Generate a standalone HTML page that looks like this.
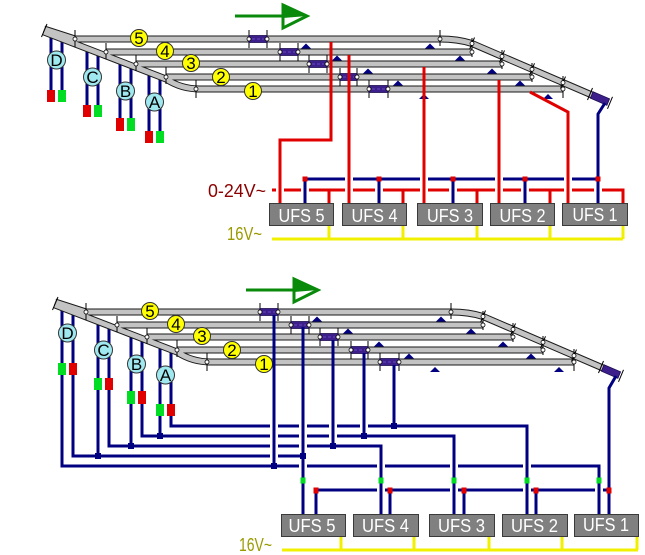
<!DOCTYPE html>
<html><head><meta charset="utf-8"><style>
html,body{margin:0;padding:0;background:#fff;}
svg{display:block;}
text{font-family:"Liberation Sans",sans-serif;}
</style></head><body>
<svg width="645" height="555" viewBox="0 0 645 555" xmlns="http://www.w3.org/2000/svg">
<rect width="645" height="555" fill="#fff"/>

<!-- ===================== TOP TRACK GROUP ===================== -->
<g id="topTrk">
 <!-- signal wires -->
 <g stroke="#000080" stroke-width="3" fill="none">
  <path d="M51,33V90M62,37V90M87,46V105M98,50V105M120,59V118M131,64V118M149,71V131M160,76V131"/>
 </g>
 <!-- tracks -->
 <g fill="none">
  <g stroke="#1a1a1a" stroke-width="7">
   <path d="M44,29 L75,39 H440 Q458,39 472,43.5 L600,98.5"/>
   <path d="M44,32 L166,79 Q181,89 200,89"/>
   <path d="M106,52H472M136,64H502M166,77H532M196,89H563"/>
  </g>
  <g stroke="#c3c3c3" stroke-width="5">
   <path d="M44,29 L75,39 H440 Q458,39 472,43.5 L600,98.5"/>
   <path d="M44,32 L166,79 Q181,89 200,89"/>
   <path d="M106,52H472M136,64H502M166,77H532M196,89H563"/>
  </g>
 </g>
 <!-- ticks -->
 <g stroke="#000" stroke-width="1">
  <path d="M41.5,37L47,24M75,30V47M106,43V59M136,55V71M166,67V84M196,80V98"/>
  <path d="M440,30V46M472,38V57M502,50V69M532,63V82M563,76V98"/>
  <path d="M474.5,37.5L469.5,49.5M504.5,50.4L499.5,62.4M534.5,63.3L529.5,75.3M565.5,76.6L560.5,88.6M592.5,88L587.5,100M612.5,96.8L607.5,108.8"/>
  <path d="M249,30V48M267,30V48M280,43V61M298,43V61M309,55V73M327,55V73M340,68V86M357,68V86M369,80V98M388,80V98"/>
 </g>
 <!-- occupied blocks -->
 <g fill="#3d1f8c" stroke="#1e0f50" stroke-width="0.8">
  <rect x="249" y="35.5" width="18" height="7"/>
  <rect x="280" y="48.5" width="18" height="7"/>
  <rect x="309" y="60.5" width="18" height="7"/>
  <rect x="340" y="73.5" width="17" height="7"/>
  <rect x="369" y="85.5" width="19" height="7"/>
  <polygon points="593.1,91.7 609.6,98.8 606.9,105.3 590.4,98.2"/>
 </g>
 <g stroke="#5a3cb0" stroke-width="1.5" stroke-dasharray="3,2">
  <path d="M252,39H264M283,52H295M312,64H324M343,77H354M372,89H385"/>
 </g>
 <!-- white joint dots -->
 <g fill="#fff" stroke="#000" stroke-width="0.8">
  <circle cx="75" cy="39" r="2"/><circle cx="106" cy="52" r="2"/><circle cx="136" cy="64" r="2"/><circle cx="166" cy="77" r="2"/><circle cx="196" cy="89" r="2"/>
  <circle cx="440" cy="39" r="2"/><circle cx="472" cy="43.5" r="2"/><circle cx="472" cy="52" r="2"/><circle cx="502" cy="56.4" r="2"/><circle cx="502" cy="64" r="2"/><circle cx="532" cy="69.3" r="2"/><circle cx="532" cy="77" r="2"/><circle cx="563" cy="82.6" r="2"/><circle cx="563" cy="89" r="2"/>
  <circle cx="249" cy="39" r="2"/><circle cx="267" cy="39" r="2"/><circle cx="280" cy="52" r="2"/><circle cx="298" cy="52" r="2"/><circle cx="309" cy="64" r="2"/><circle cx="327" cy="64" r="2"/><circle cx="340" cy="77" r="2"/><circle cx="357" cy="77" r="2"/><circle cx="369" cy="89" r="2"/><circle cx="388" cy="89" r="2"/>
 </g>
 <!-- triangles -->
 <g fill="#000080">
  <polygon points="301,48.5 311,48.5 306,43.5"/><polygon points="425,48.5 435,48.5 430,43.5"/>
  <polygon points="332,60.5 342,60.5 337,55.5"/><polygon points="455,60.5 465,60.5 460,55.5"/>
  <polygon points="363,73.5 373,73.5 368,68.5"/><polygon points="487,73.5 497,73.5 492,68.5"/>
  <polygon points="393,85.5 403,85.5 398,80.5"/><polygon points="515,85.5 525,85.5 520,80.5"/>
  <polygon points="419,99 429,99 424,94"/><polygon points="543,99 553,99 548,94"/>
 </g>
 <!-- numbered circles -->
 <g fill="#ffff00" stroke="#333" stroke-width="1">
  <circle cx="139" cy="38" r="8.5"/><circle cx="165" cy="51" r="8.5"/><circle cx="191" cy="63" r="8.5"/><circle cx="221" cy="77" r="8.5"/><circle cx="253" cy="91" r="8.5"/>
 </g>
 <g font-size="17" text-anchor="middle" fill="#000">
  <text x="139" y="44">5</text><text x="165" y="57">4</text><text x="191" y="69">3</text><text x="221" y="83">2</text><text x="253" y="97">1</text>
 </g>
 <!-- signal circles -->
 <g fill="#a0e8f0" stroke="#333" stroke-width="1">
  <circle cx="56.5" cy="60" r="9"/><circle cx="92.5" cy="77" r="9"/><circle cx="125.5" cy="91" r="9"/><circle cx="154.5" cy="102" r="9"/>
 </g>
 <g font-size="17" text-anchor="middle" fill="#000">
  <text x="56.5" y="66">D</text><text x="92.5" y="83">C</text><text x="125.5" y="97">B</text><text x="154.5" y="108">A</text>
 </g>
 <!-- signal lamps (red left, green right) -->
 <g fill="#e00000"><rect x="47" y="90" width="8" height="12"/><rect x="83" y="105" width="8" height="12"/><rect x="116" y="118" width="8" height="13"/><rect x="145" y="131" width="8" height="12"/></g>
 <g fill="#00dd22"><rect x="58" y="90" width="8" height="12"/><rect x="94" y="105" width="8" height="12"/><rect x="127" y="118" width="8" height="13"/><rect x="156" y="131" width="8" height="12"/></g>
 <!-- arrow -->
 <line x1="235" y1="16" x2="285" y2="16" stroke="#0a8a0a" stroke-width="3"/>
 <polygon points="283,5 307,16 283,28" fill="#fff" stroke="#0a8a0a" stroke-width="3" stroke-linejoin="miter"/>
 <polygon points="283,5 307,16 283,18" fill="#0a8a0a"/>
</g>

<!-- ===================== TOP WIRING ===================== -->
<g fill="none" stroke-width="3">
 <line x1="305" y1="179" x2="597" y2="179" stroke="#000080"/>
 <path d="M272,190H623V203" stroke="#e00000"/>
</g>
<g fill="#fff">
 <rect x="345" y="176.5" width="8" height="5"/><rect x="420" y="176.5" width="8" height="5"/><rect x="495" y="176.5" width="8" height="5"/><rect x="564" y="176.5" width="8" height="5"/>
 <rect x="276" y="187.5" width="8" height="5"/><rect x="301" y="187.5" width="8" height="5"/><rect x="345" y="187.5" width="8" height="5"/><rect x="375" y="187.5" width="8" height="5"/><rect x="420" y="187.5" width="8" height="5"/><rect x="449" y="187.5" width="8" height="5"/><rect x="495" y="187.5" width="8" height="5"/><rect x="521" y="187.5" width="8" height="5"/><rect x="564" y="187.5" width="8" height="5"/><rect x="594" y="187.5" width="8" height="5"/>
</g>
<g fill="none" stroke-width="3" stroke="#e00000">
 <path d="M331,42V140H280V203"/>
 <path d="M349,55V203M424,67V203M499,80V203"/>
 <path d="M530,92L568,112V203"/>
 <path d="M329,190V203M403,190V203M477,190V203M550,190V203"/>
</g>
<g fill="none" stroke-width="3" stroke="#000080">
 <path d="M605,103L598,114V203"/>
 <path d="M305,179V203M379,179V203M453,179V203M525,179V203"/>
</g>
<g fill="#e00000">
 <rect x="302.5" y="176.5" width="5" height="5"/><rect x="376.5" y="176.5" width="5" height="5"/><rect x="450.5" y="176.5" width="5" height="5"/><rect x="522.5" y="176.5" width="5" height="5"/><rect x="595.5" y="176.5" width="5" height="5"/>
</g>
<!-- yellow 16V top -->
<g fill="none" stroke="#f0f000" stroke-width="3">
 <path d="M272,239H623M329,225V239M403,225V239M477,225V239M550,225V239M623,225V239"/>
</g>
<!-- boxes top -->
<g fill="#808080" stroke="#3a3a3a" stroke-width="1">
 <rect x="269.5" y="203.5" width="64" height="22"/><rect x="342.5" y="203.5" width="64" height="22"/><rect x="417.5" y="203.5" width="65" height="22"/><rect x="490.5" y="203.5" width="64" height="22"/><rect x="562.5" y="203.5" width="65" height="22"/>
</g>
<g fill="#fff" font-size="18" text-anchor="middle">
 <text x="301.5" y="222" textLength="46" lengthAdjust="spacingAndGlyphs">UFS 5</text>
 <text x="374.5" y="222" textLength="46" lengthAdjust="spacingAndGlyphs">UFS 4</text>
 <text x="450" y="222" textLength="46" lengthAdjust="spacingAndGlyphs">UFS 3</text>
 <text x="522.5" y="222" textLength="46" lengthAdjust="spacingAndGlyphs">UFS 2</text>
 <text x="595" y="221" textLength="45" lengthAdjust="spacingAndGlyphs">UFS 1</text>
</g>
<text x="208" y="197" font-size="18" fill="#8b0000" textLength="58" lengthAdjust="spacingAndGlyphs">0-24V~</text>
<text x="227" y="240" font-size="18" fill="#9a9a00" textLength="35" lengthAdjust="spacingAndGlyphs">16V~</text>

<!-- ===================== BOTTOM TRACK GROUP ===================== -->
<g transform="translate(11,273)">
 <g stroke="#000080" stroke-width="3" fill="none">
  <path d="M51,33V90M62,37V90M87,46V105M98,50V105M120,59V118M131,64V118M149,71V131M160,76V131"/>
 </g>
 <g fill="none">
  <g stroke="#1a1a1a" stroke-width="7">
   <path d="M44,29 L75,39 H440 Q458,39 472,43.5 L600,98.5"/>
   <path d="M44,32 L166,79 Q181,89 200,89"/>
   <path d="M106,52H472M136,64H502M166,77H532M196,89H563"/>
  </g>
  <g stroke="#c3c3c3" stroke-width="5">
   <path d="M44,29 L75,39 H440 Q458,39 472,43.5 L600,98.5"/>
   <path d="M44,32 L166,79 Q181,89 200,89"/>
   <path d="M106,52H472M136,64H502M166,77H532M196,89H563"/>
  </g>
 </g>
 <g stroke="#000" stroke-width="1">
  <path d="M41.5,37L47,24M75,30V47M106,43V59M136,55V71M166,67V84M196,80V98"/>
  <path d="M440,30V46M472,38V57M502,50V69M532,63V82M563,76V98"/>
  <path d="M474.5,37.5L469.5,49.5M504.5,50.4L499.5,62.4M534.5,63.3L529.5,75.3M565.5,76.6L560.5,88.6M592.5,88L587.5,100M612.5,96.8L607.5,108.8"/>
  <path d="M249,30V48M267,30V48M280,43V61M298,43V61M309,55V73M327,55V73M340,68V86M357,68V86M369,80V98M388,80V98"/>
 </g>
 <g fill="#3d1f8c" stroke="#1e0f50" stroke-width="0.8">
  <rect x="249" y="35.5" width="18" height="7"/>
  <rect x="280" y="48.5" width="18" height="7"/>
  <rect x="309" y="60.5" width="18" height="7"/>
  <rect x="340" y="73.5" width="17" height="7"/>
  <rect x="369" y="85.5" width="19" height="7"/>
  <polygon points="593.1,91.7 609.6,98.8 606.9,105.3 590.4,98.2"/>
 </g>
 <g stroke="#5a3cb0" stroke-width="1.5" stroke-dasharray="3,2">
  <path d="M252,39H264M283,52H295M312,64H324M343,77H354M372,89H385"/>
 </g>
 <g fill="#fff" stroke="#000" stroke-width="0.8">
  <circle cx="75" cy="39" r="2"/><circle cx="106" cy="52" r="2"/><circle cx="136" cy="64" r="2"/><circle cx="166" cy="77" r="2"/><circle cx="196" cy="89" r="2"/>
  <circle cx="440" cy="39" r="2"/><circle cx="472" cy="43.5" r="2"/><circle cx="472" cy="52" r="2"/><circle cx="502" cy="56.4" r="2"/><circle cx="502" cy="64" r="2"/><circle cx="532" cy="69.3" r="2"/><circle cx="532" cy="77" r="2"/><circle cx="563" cy="82.6" r="2"/><circle cx="563" cy="89" r="2"/>
  <circle cx="249" cy="39" r="2"/><circle cx="267" cy="39" r="2"/><circle cx="280" cy="52" r="2"/><circle cx="298" cy="52" r="2"/><circle cx="309" cy="64" r="2"/><circle cx="327" cy="64" r="2"/><circle cx="340" cy="77" r="2"/><circle cx="357" cy="77" r="2"/><circle cx="369" cy="89" r="2"/><circle cx="388" cy="89" r="2"/>
 </g>
 <g fill="#000080">
  <polygon points="301,48.5 311,48.5 306,43.5"/><polygon points="425,48.5 435,48.5 430,43.5"/>
  <polygon points="332,60.5 342,60.5 337,55.5"/><polygon points="455,60.5 465,60.5 460,55.5"/>
  <polygon points="363,73.5 373,73.5 368,68.5"/><polygon points="487,73.5 497,73.5 492,68.5"/>
  <polygon points="393,85.5 403,85.5 398,80.5"/><polygon points="515,85.5 525,85.5 520,80.5"/>
  <polygon points="419,99 429,99 424,94"/><polygon points="543,99 553,99 548,94"/>
 </g>
 <g fill="#ffff00" stroke="#333" stroke-width="1">
  <circle cx="139" cy="38" r="8.5"/><circle cx="165" cy="51" r="8.5"/><circle cx="191" cy="63" r="8.5"/><circle cx="221" cy="77" r="8.5"/><circle cx="253" cy="91" r="8.5"/>
 </g>
 <g font-size="17" text-anchor="middle" fill="#000">
  <text x="139" y="44">5</text><text x="165" y="57">4</text><text x="191" y="69">3</text><text x="221" y="83">2</text><text x="253" y="97">1</text>
 </g>
 <g fill="#a0e8f0" stroke="#333" stroke-width="1">
  <circle cx="56.5" cy="60" r="9"/><circle cx="92.5" cy="77" r="9"/><circle cx="125.5" cy="91" r="9"/><circle cx="154.5" cy="102" r="9"/>
 </g>
 <g font-size="17" text-anchor="middle" fill="#000">
  <text x="56.5" y="66">D</text><text x="92.5" y="83">C</text><text x="125.5" y="97">B</text><text x="154.5" y="108">A</text>
 </g>
 <!-- lamps (green left, red right) -->
 <g fill="#00dd22"><rect x="47" y="90" width="8" height="12"/><rect x="83" y="105" width="8" height="12"/><rect x="116" y="118" width="8" height="13"/><rect x="145" y="131" width="8" height="12"/></g>
 <g fill="#e00000"><rect x="58" y="90" width="8" height="12"/><rect x="94" y="105" width="8" height="12"/><rect x="127" y="118" width="8" height="13"/><rect x="156" y="131" width="8" height="12"/></g>
 <line x1="235" y1="17" x2="285" y2="17" stroke="#0a8a0a" stroke-width="3"/>
 <polygon points="283,6 307,17 283,29" fill="#fff" stroke="#0a8a0a" stroke-width="3"/>
 <polygon points="283,6 307,17 283,19" fill="#0a8a0a"/>
</g>

<!-- ===================== BOTTOM WIRING ===================== -->
<g fill="none" stroke="#000080" stroke-width="3">
 <path d="M62,375V466H599V514"/>
 <path d="M73,375V456H303"/>
 <path d="M98,390V456"/>
 <path d="M109,390V446H381V514"/>
 <path d="M131,404V446"/>
 <path d="M142,404V436H454V514"/>
 <path d="M160,416V436"/>
 <path d="M171,416V426H527V514"/>
 <path d="M316,490H609"/>
</g>
<!-- gaps in horizontals -->
<g fill="#fff">
 <rect x="270" y="453.5" width="8" height="5"/>
 <rect x="270" y="443.5" width="8" height="5"/><rect x="299" y="443.5" width="8" height="5"/>
 <rect x="270" y="433.5" width="8" height="5"/><rect x="299" y="433.5" width="8" height="5"/><rect x="329" y="433.5" width="8" height="5"/>
 <rect x="270" y="423.5" width="8" height="5"/><rect x="299" y="423.5" width="8" height="5"/><rect x="329" y="423.5" width="8" height="5"/><rect x="360" y="423.5" width="8" height="5"/>
 <rect x="299" y="463.5" width="8" height="5"/><rect x="377" y="463.5" width="8" height="5"/><rect x="450" y="463.5" width="8" height="5"/><rect x="523" y="463.5" width="8" height="5"/>
 <rect x="377" y="487.5" width="8" height="5"/><rect x="450" y="487.5" width="8" height="5"/><rect x="523" y="487.5" width="8" height="5"/><rect x="595" y="487.5" width="8" height="5"/>
</g>
<g fill="none" stroke="#000080" stroke-width="3">
 <path d="M274,315V466"/>
 <path d="M303,327V514"/>
 <path d="M333,340V446"/>
 <path d="M364,353V436"/>
 <path d="M394,365V426"/>
 <path d="M616,376L609,388V514"/>
 <path d="M381,460V472M454,460V472M527,460V472M599,484V496M381,484V496M454,484V496M527,484V496"/>
 <path d="M316,490V514M390,490V514M464,490V514M536,490V514"/>
</g>
<g fill="#000080">
 <rect x="271" y="463" width="6" height="6"/><rect x="300" y="453" width="6" height="6"/><rect x="95" y="453" width="6" height="6"/><rect x="128" y="443" width="6" height="6"/><rect x="330" y="443" width="6" height="6"/><rect x="157" y="433" width="6" height="6"/><rect x="361" y="433" width="6" height="6"/><rect x="391" y="423" width="6" height="6"/>
</g>
<g fill="#00dd22">
 <rect x="300.5" y="477.5" width="5" height="6"/><rect x="378.5" y="477.5" width="5" height="6"/><rect x="451.5" y="477.5" width="5" height="6"/><rect x="524.5" y="477.5" width="5" height="6"/><rect x="596.5" y="477.5" width="5" height="6"/>
</g>
<g fill="#e00000">
 <rect x="313.5" y="487.5" width="5" height="6"/><rect x="387.5" y="487.5" width="5" height="6"/><rect x="461.5" y="487.5" width="5" height="6"/><rect x="533.5" y="487.5" width="5" height="6"/><rect x="606.5" y="487.5" width="5" height="6"/>
</g>
<!-- yellow bottom -->
<g fill="none" stroke="#f0f000" stroke-width="3">
 <path d="M282,550H638M341,536V550M414,536V550M489,536V550M562,536V550M637,536V550"/>
</g>
<g fill="#808080" stroke="#3a3a3a" stroke-width="1">
 <rect x="281.5" y="514.5" width="64" height="22"/><rect x="353.5" y="514.5" width="65" height="22"/><rect x="429.5" y="514.5" width="65" height="22"/><rect x="502.5" y="514.5" width="65" height="22"/><rect x="574.5" y="514.5" width="64" height="22"/>
</g>
<g fill="#fff" font-size="18" text-anchor="middle">
 <text x="312" y="532" textLength="47" lengthAdjust="spacingAndGlyphs">UFS 5</text>
 <text x="385.5" y="532" textLength="47" lengthAdjust="spacingAndGlyphs">UFS 4</text>
 <text x="461.5" y="532" textLength="47" lengthAdjust="spacingAndGlyphs">UFS 3</text>
 <text x="534.5" y="532" textLength="47" lengthAdjust="spacingAndGlyphs">UFS 2</text>
 <text x="606" y="531" textLength="46" lengthAdjust="spacingAndGlyphs">UFS 1</text>
</g>
<text x="239" y="551" font-size="18" fill="#9a9a00" textLength="33" lengthAdjust="spacingAndGlyphs">16V~</text>
</svg>
</body></html>
